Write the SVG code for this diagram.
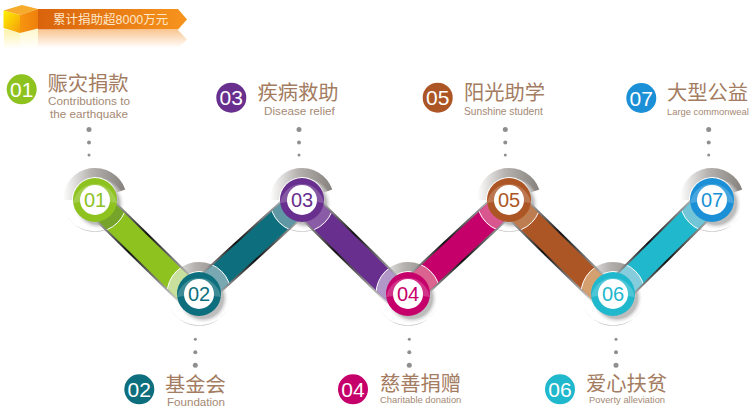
<svg xmlns="http://www.w3.org/2000/svg" xmlns:xlink="http://www.w3.org/1999/xlink" width="750" height="407" viewBox="0 0 750 407">
<style>
text{font-family:"Liberation Sans","Noto Sans CJK SC",sans-serif}
.t{font-size:20.300px;fill:#a37c61}
.s{fill:#a58974}
.n{font-size:20px;text-anchor:middle}
.b{font-size:21px;fill:#fff;text-anchor:middle}
.d{fill:#8f8f8f}
.cap{stroke:#fff;stroke-width:1}
</style>
<defs>
<linearGradient id="rib" x1="0" x2="1" y1="0" y2="0"><stop offset="0" stop-color="#d9630c"/><stop offset="1" stop-color="#f7941d"/></linearGradient>
<linearGradient id="ribr" x1="0" x2="0" y1="0" y2="1"><stop offset="0" stop-color="#f9c794"/><stop offset="1" stop-color="#fff"/></linearGradient>
<linearGradient id="cuber" x1="0" x2="0" y1="0" y2="1"><stop offset="0" stop-color="#fdf2a8"/><stop offset="1" stop-color="#fff"/></linearGradient>
<linearGradient id="cl" x1="0" x2="1" y1="0" y2="1"><stop offset="0" stop-color="#fff200"/><stop offset="1" stop-color="#f59a0c"/></linearGradient>
<linearGradient id="cr" x1="0" x2="1" y1="0" y2="0"><stop offset="0" stop-color="#f7960f"/><stop offset="1" stop-color="#ee7f0c"/></linearGradient>
<linearGradient id="arc" x1="0" x2="1" y1="0" y2="0"><stop offset="0" stop-color="#fff"/><stop offset=".45" stop-color="#b5b2af"/><stop offset="1" stop-color="#86817c"/></linearGradient>
<linearGradient id="cres" x1="0" x2="0" y1="0" y2="1"><stop offset="0" stop-color="#fff"/><stop offset="1" stop-color="#b8b8b8"/></linearGradient>
<radialGradient id="sh"><stop offset=".78" stop-color="#bdbdbd"/><stop offset="1" stop-color="#fff" stop-opacity="0"/></radialGradient>
<linearGradient id="e1" x1="0" y1="0" x2="1" y2="1"><stop offset="0" stop-color="#ddd"/><stop offset=".45" stop-color="#111"/><stop offset="1" stop-color="#ddd"/></linearGradient>
<linearGradient id="e2" x1="0" y1="1" x2="1" y2="0"><stop offset="0" stop-color="#ddd"/><stop offset=".45" stop-color="#111"/><stop offset="1" stop-color="#ddd"/></linearGradient>
<g id="back">
<path fill="url(#arc)" d="M-32,0A32,32 0 0 1 30.300,-10.400L21.700,-7.500A23,23 0 0 0 -23,0Z"/>
<path fill="url(#cres)" d="M-30,11A32,32 0 0 0 30,11A31,27 0 0 1 -30,11Z"/>
<circle cx="4" cy="4" r="26" fill="url(#sh)"/>
</g>
<path id="gl" fill="#fff" fill-opacity=".2" d="M-21.800,3A22,22 0 0 1 21.800,3Q0,-1 -21.800,3Z"/>
<clipPath id="c12"><path d="M103.500,192.500L198.500,285.500L181.500,302.500L86.500,209.500Z"/></clipPath>
<clipPath id="c23"><path d="M207.100,302.900L310.100,208.900L293.900,191.100L190.900,285.100Z"/></clipPath>
<clipPath id="c34"><path d="M310.500,192.500L405.500,285.500L388.500,302.500L293.500,209.500Z"/></clipPath>
<clipPath id="c45"><path d="M416.200,302.800L517.200,208.800L500.800,191.200L399.800,285.200Z"/></clipPath>
<clipPath id="c56"><path d="M517.500,192.500L612.500,285.500L595.500,302.500L500.500,209.500Z"/></clipPath>
<clipPath id="c67"><path d="M621.400,304.500L720.400,206.500L703.600,189.500L604.600,287.500Z"/></clipPath>
</defs>
<g id="banner">
<path fill="url(#cuber)" d="M4,29L20,33V49H4Z"/>
<path fill="url(#cuber)" fill-opacity=".6" d="M20,33L38,29V49H20Z"/>
<path fill="url(#ribr)" d="M38,30H178L187,39.500L178,48H38Z"/>
<path fill="url(#rib)" d="M38,9H178L187,19.500L178,29.500H38Z"/>
<path fill="#f6ab2c" d="M3.500,10.500L22,5L38,9L20,15Z"/>
<path fill="url(#cl)" d="M3.500,10.500L20,15V33L3.500,28Z"/>
<path fill="url(#cr)" d="M20,15L38,9V28.500L20,33Z"/>
<text x="53" y="24" font-size="12.500" fill="#fde7c8">累计捐助超8000万元</text>
</g>
<g id="leaders" class="d">
<circle cx="89" cy="129.500" r="2.500"/><circle cx="89" cy="142.500" r="2"/><circle cx="89" cy="155" r="1.500"/>
<circle cx="299" cy="129.500" r="2.500"/><circle cx="299" cy="142.500" r="2"/><circle cx="299" cy="155" r="1.500"/>
<circle cx="505.300" cy="129.500" r="2.500"/><circle cx="505.300" cy="142.500" r="2"/><circle cx="505.300" cy="155" r="1.500"/>
<circle cx="708.700" cy="129.500" r="2.500"/><circle cx="708.700" cy="142.500" r="2"/><circle cx="708.700" cy="155" r="1.500"/>
<circle cx="195.300" cy="339.300" r="1.500"/><circle cx="195.300" cy="352.300" r="2"/><circle cx="195.300" cy="365.300" r="2.500"/>
<circle cx="409.300" cy="339.300" r="1.500"/><circle cx="409.300" cy="352.300" r="2"/><circle cx="409.300" cy="365.300" r="2.500"/>
<circle cx="616" cy="339.300" r="1.500"/><circle cx="616" cy="352.300" r="2"/><circle cx="616" cy="365.300" r="2.500"/>
</g>
<g id="backs">
<use xlink:href="#back" href="#back" x="95" y="200"/><use xlink:href="#back" href="#back" x="199" y="294"/><use xlink:href="#back" href="#back" x="302" y="200"/><use xlink:href="#back" href="#back" x="408" y="294"/><use xlink:href="#back" href="#back" x="509" y="200"/><use xlink:href="#back" href="#back" x="613" y="294"/><use xlink:href="#back" href="#back" x="712" y="200"/>
</g>
<g id="connectors" fill="none">
<path stroke="url(#e1)" stroke-width="28" d="M95,201L190,294"/><path stroke="#8dc21f" stroke-width="24" d="M95,201L190,294"/>
<path stroke="url(#e2)" stroke-width="28" d="M199,294L302,200"/><path stroke="#0d6f7d" stroke-width="24" d="M199,294L302,200"/>
<path stroke="url(#e1)" stroke-width="28" d="M302,201L397,294"/><path stroke="#682f8e" stroke-width="24" d="M302,201L397,294"/>
<path stroke="url(#e2)" stroke-width="28" d="M408,294L509,200"/><path stroke="#c6006b" stroke-width="24" d="M408,294L509,200"/>
<path stroke="url(#e1)" stroke-width="28" d="M509,201L604,294"/><path stroke="#ad5625" stroke-width="24" d="M509,201L604,294"/>
<path stroke="url(#e2)" stroke-width="28" d="M613,296L712,198"/><path stroke="#20b8cd" stroke-width="24" d="M613,296L712,198"/>
<circle class="cap" cx="95" cy="200" r="32" fill="#76a32a" clip-path="url(#c12)"/>
<circle class="cap" cx="199" cy="294" r="32" fill="#c8df9e" clip-path="url(#c12)"/>
<circle class="cap" cx="199" cy="294" r="32" fill="#7aa8b2" clip-path="url(#c23)"/>
<circle class="cap" cx="302" cy="200" r="32" fill="#5f98a4" clip-path="url(#c23)"/>
<circle class="cap" cx="302" cy="200" r="32" fill="#8a5ba6" clip-path="url(#c34)"/>
<circle class="cap" cx="408" cy="294" r="32" fill="#b298c9" clip-path="url(#c34)"/>
<circle class="cap" cx="408" cy="294" r="32" fill="#da6390" clip-path="url(#c45)"/>
<circle class="cap" cx="509" cy="200" r="32" fill="#d9578f" clip-path="url(#c45)"/>
<circle class="cap" cx="509" cy="200" r="32" fill="#bd7d50" clip-path="url(#c56)"/>
<circle class="cap" cx="613" cy="294" r="32" fill="#d4a070" clip-path="url(#c56)"/>
<circle class="cap" cx="613" cy="294" r="32" fill="#85cddc" clip-path="url(#c67)"/>
<circle class="cap" cx="712" cy="200" r="32" fill="#72c5d6" clip-path="url(#c67)"/>
</g>
<g id="node-01">
<circle cx="95" cy="200" r="22" fill="#8dc21f"/><use xlink:href="#gl" href="#gl" x="95" y="200"/><circle cx="95" cy="200" r="15" fill="#fff"/><text class="n" x="95" y="207" fill="#8dc21f">01</text>
<circle cx="21.700" cy="89.300" r="15" fill="#8dc21f"/><text class="b" x="21.700" y="96.800">01</text>
<text class="t" x="47.500" y="90.500">赈灾捐款</text>
<text class="s" x="89" y="105" text-anchor="middle" font-size="11.700">Contributions to</text><text class="s" x="89" y="117.500" text-anchor="middle" font-size="11.700">the earthquake</text>
</g>
<g id="node-02">
<circle cx="199" cy="294" r="22" fill="#0d6f7d"/><use xlink:href="#gl" href="#gl" x="199" y="294"/><circle cx="199" cy="294" r="15" fill="#fff"/><text class="n" x="199" y="301" fill="#0d6f7d">02</text>
<circle cx="139.300" cy="389.300" r="15" fill="#0d6f7d"/><text class="b" x="139.300" y="396.800">02</text>
<text class="t" x="165" y="392">基金会</text>
<text class="s" x="167" y="406" font-size="11.600">Foundation</text>
</g>
<g id="node-03">
<circle cx="302" cy="200" r="22" fill="#682f8e"/><use xlink:href="#gl" href="#gl" x="302" y="200"/><circle cx="302" cy="200" r="15" fill="#fff"/><text class="n" x="302" y="207" fill="#682f8e">03</text>
<circle cx="231.300" cy="97.700" r="15" fill="#682f8e"/><text class="b" x="231.300" y="105.200">03</text>
<text class="t" x="257.500" y="100">疾病救助</text>
<text class="s" x="264" y="115" font-size="11.700">Disease relief</text>
</g>
<g id="node-04">
<circle cx="408" cy="294" r="22" fill="#c6006b"/><use xlink:href="#gl" href="#gl" x="408" y="294"/><circle cx="408" cy="294" r="15" fill="#fff"/><text class="n" x="408" y="301" fill="#c6006b">04</text>
<circle cx="353" cy="389.300" r="15" fill="#c6006b"/><text class="b" x="353" y="396.800">04</text>
<text class="t" x="380" y="391">慈善捐赠</text>
<text class="s" x="380" y="403" font-size="9.400">Charitable donation</text>
</g>
<g id="node-05">
<circle cx="509" cy="200" r="22" fill="#ad5625"/><use xlink:href="#gl" href="#gl" x="509" y="200"/><circle cx="509" cy="200" r="15" fill="#fff"/><text class="n" x="509" y="207" fill="#ad5625">05</text>
<circle cx="437.700" cy="97.700" r="15" fill="#ad5625"/><text class="b" x="437.700" y="105.200">05</text>
<text class="t" x="464" y="100">阳光助学</text>
<text class="s" x="464" y="115" font-size="10.200">Sunshine student</text>
</g>
<g id="node-06">
<circle cx="613" cy="294" r="22" fill="#20b8cd"/><use xlink:href="#gl" href="#gl" x="613" y="294"/><circle cx="613" cy="294" r="15" fill="#fff"/><text class="n" x="613" y="301" fill="#20b8cd">06</text>
<circle cx="560" cy="389.300" r="15" fill="#20b8cd"/><text class="b" x="560" y="396.800">06</text>
<text class="t" x="586" y="391">爱心扶贫</text>
<text class="s" x="589" y="403" font-size="9.400">Poverty alleviation</text>
</g>
<g id="node-07">
<circle cx="712" cy="200" r="22" fill="#1b90d6"/><use xlink:href="#gl" href="#gl" x="712" y="200"/><circle cx="712" cy="200" r="15" fill="#fff"/><text class="n" x="712" y="207" fill="#1b90d6">07</text>
<circle cx="641.300" cy="98" r="15" fill="#1b90d6"/><text class="b" x="641.300" y="105.500">07</text>
<text class="t" x="667" y="100">大型公益</text>
<text class="s" x="667" y="115" font-size="9.400">Large commonweal</text>
</g>
</svg>
